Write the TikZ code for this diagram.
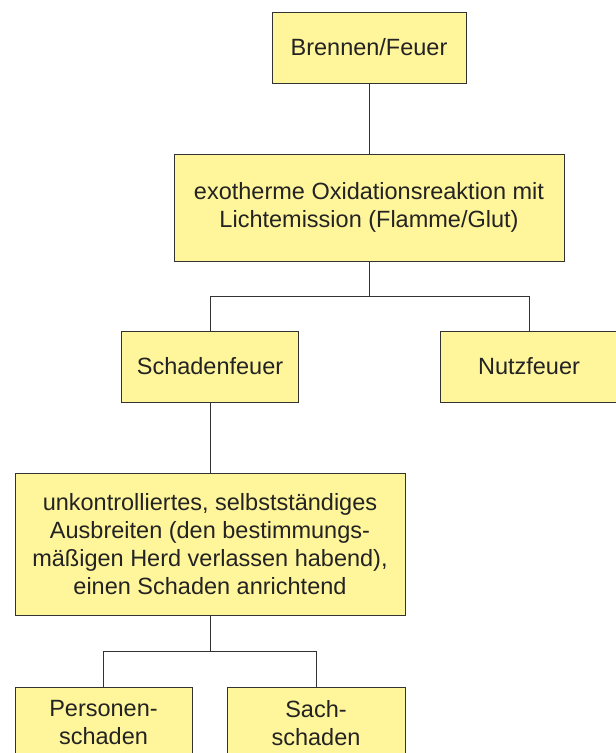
\documentclass[tikz,border=0pt]{standalone}
\usepackage{fontspec}
\setmainfont{Liberation Sans}
\usepackage{tikz}
\definecolor{boxfill}{RGB}{255,245,155}
\definecolor{boxline}{RGB}{50,50,50}
\definecolor{boxtext}{RGB}{35,35,35}
\tikzset{
	box/.style={draw=boxline, fill=boxfill, line width=0.9pt, align=center, inner sep=0pt,
		text=boxtext, font=\fontsize{23.5}{28}\selectfont},
	link/.style={draw=boxline, line width=0.8pt}
}

\begin{document}
\begin{tikzpicture}[x=1pt, y=-1pt]
\useasboundingbox (0,0) rectangle (616,753);
\clip (0,0) rectangle (616,753);
\node[box, minimum width=194pt, minimum height=71pt] (feuer) at (369,47.5) {Brennen/Feuer};
\node[box, minimum width=390pt, minimum height=107pt] (oxid) at (369,207.5) {exotherme Oxidationsreaktion mit\\Lichtemission (Flamme/Glut)};
\node[box, minimum width=177pt, minimum height=71pt] (schaden) at (210,366.5) {Schadenfeuer};
\node[box, minimum width=178pt, minimum height=71pt] (nutz) at (529,366.5) {Nutzfeuer};
\node[box, minimum width=390pt, minimum height=142pt] (ausbreit) at (210,544) {unkontrolliertes, selbstständiges\\Ausbreiten (den bestimmungs-\\mäßigen Herd verlassen habend),\\einen Schaden anrichtend};
\node[box, minimum width=177pt, minimum height=72pt] (person) at (103.5,723) {Personen-\\schaden};
\node[box, minimum width=178pt, minimum height=72pt] (sach) at (316,723) {Sach-\\schaden};

\draw[link] (feuer.south) -- (oxid.north);
\draw[link] (oxid.south) -- ++(0,35) coordinate (split1) -| (schaden.north);
\draw[link] (split1) -| (nutz.north);
\draw[link] (schaden.south) -- (ausbreit.north);
\draw[link] (ausbreit.south) -- ++(0,36) coordinate (split2) -| (person.north);
\draw[link] (split2) -| (sach.north);
\end{tikzpicture}
\end{document}
